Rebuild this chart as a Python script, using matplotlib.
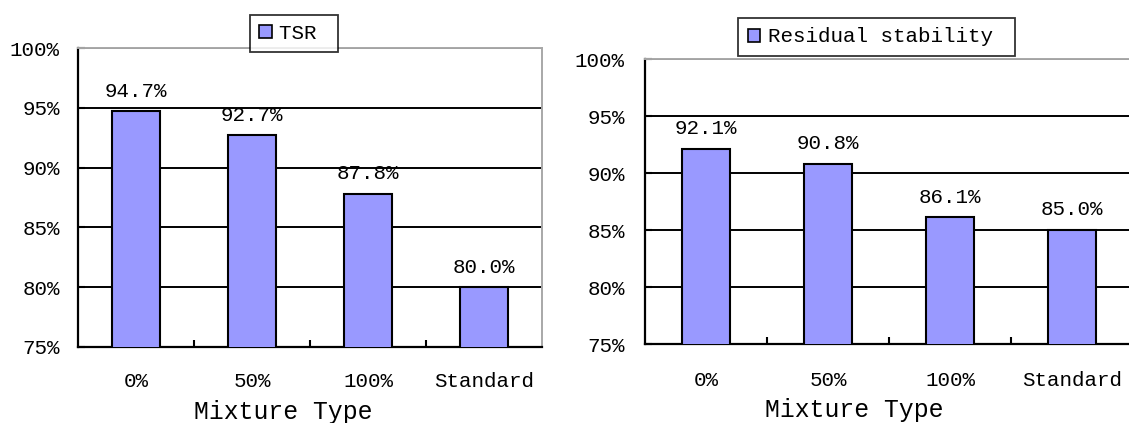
import matplotlib
matplotlib.use("Agg")
import matplotlib.pyplot as plt
from matplotlib.patches import Patch
from matplotlib.ticker import FixedLocator, FuncFormatter

# Data
categories = ["0%", "50%", "100%", "Standard"]
tsr_values = [94.7, 92.7, 87.8, 80.0]
residual_values = [92.1, 90.8, 86.1, 85.0]
y_ticks = [75, 80, 85, 90, 95, 100]

BAR_COLOR = "#9999FF"
FONT = "Liberation Mono"
plt.rcParams["font.family"] = [FONT, "DejaVu Sans"]
FS = 15

fig = plt.figure(figsize=(11.29, 4.23), dpi=100)
fig.patch.set_facecolor("white")


def draw_panel(ax, values, bar_width, legend_label, legend_xy, xlabel_xy, ytick_pad, xtick_pad):
    x = list(range(len(categories)))
    ax.bar(x, values, width=bar_width, color=BAR_COLOR, edgecolor="black",
           linewidth=1.5, zorder=3)
    ax.set_xlim(-0.5, len(categories) - 0.5)
    ax.set_ylim(75, 100)

    # horizontal gridlines
    ax.set_yticks(y_ticks)
    ax.yaxis.set_major_formatter(FuncFormatter(lambda v, p: f"{v:.0f}%"))
    ax.yaxis.grid(True, color="black", linewidth=1.4, zorder=1)
    ax.set_axisbelow(True)
    ax.tick_params(axis="y", direction="in", length=5, width=1.5, pad=ytick_pad,
                   labelsize=FS, colors="black")

    # category labels, with small separators between categories
    ax.set_xticks(x)
    ax.set_xticklabels(categories)
    ax.xaxis.set_minor_locator(FixedLocator([i + 0.5 for i in x[:-1]]))
    ax.tick_params(axis="x", which="major", length=0, pad=xtick_pad, labelsize=FS)
    ax.tick_params(axis="x", which="minor", direction="in", length=5, width=1.5)

    for s in ("left", "bottom"):
        ax.spines[s].set_color("black")
        ax.spines[s].set_linewidth(1.6)
    for s in ("top", "right"):
        ax.spines[s].set_color("#a8a8a8")
        ax.spines[s].set_linewidth(1.4)

    # value labels above the bars
    for xi, v in zip(x, values):
        ax.annotate(f"{v:.1f}%", (xi, v), xytext=(0, 14.5), textcoords="offset points",
                    ha="center", va="center", fontsize=FS, zorder=5)

    ax.set_xlabel("Mixture Type", fontsize=17.8)
    ax.xaxis.label.set_va("center")
    ax.xaxis.set_label_coords(*xlabel_xy)

    handle = Patch(facecolor=BAR_COLOR, edgecolor="black", linewidth=1.2)
    leg = fig.legend([handle], [legend_label], loc="center", bbox_to_anchor=legend_xy,
                     bbox_transform=fig.transFigure, fontsize=FS, frameon=True,
                     fancybox=False, handlelength=0.6, handleheight=0.6,
                     handletextpad=0.35, borderpad=0.45, borderaxespad=0)
    leg.get_frame().set_edgecolor("black")
    leg.get_frame().set_linewidth(1.3)
    leg.set_zorder(10)


W, H = 1129, 423
ax1 = fig.add_axes([78 / W, 1 - 347 / H, 464 / W, 299 / H])
draw_panel(ax1, tsr_values, 0.42, "TSR ", (294 / W, 1 - 33.5 / H),
           ((283 - 78) / 464, (347 - 412) / 299), 13, 18)

ax2 = fig.add_axes([645 / W, 1 - 344 / H, 488 / W, 285 / H])
draw_panel(ax2, residual_values, 0.40, "Residual stability ", (876.5 / W, 1 - 37 / H),
           ((854.5 - 645) / 488, (344 - 410) / 285), 14.5, 19.5)

fig.savefig("out.png", dpi=100, facecolor="white")
